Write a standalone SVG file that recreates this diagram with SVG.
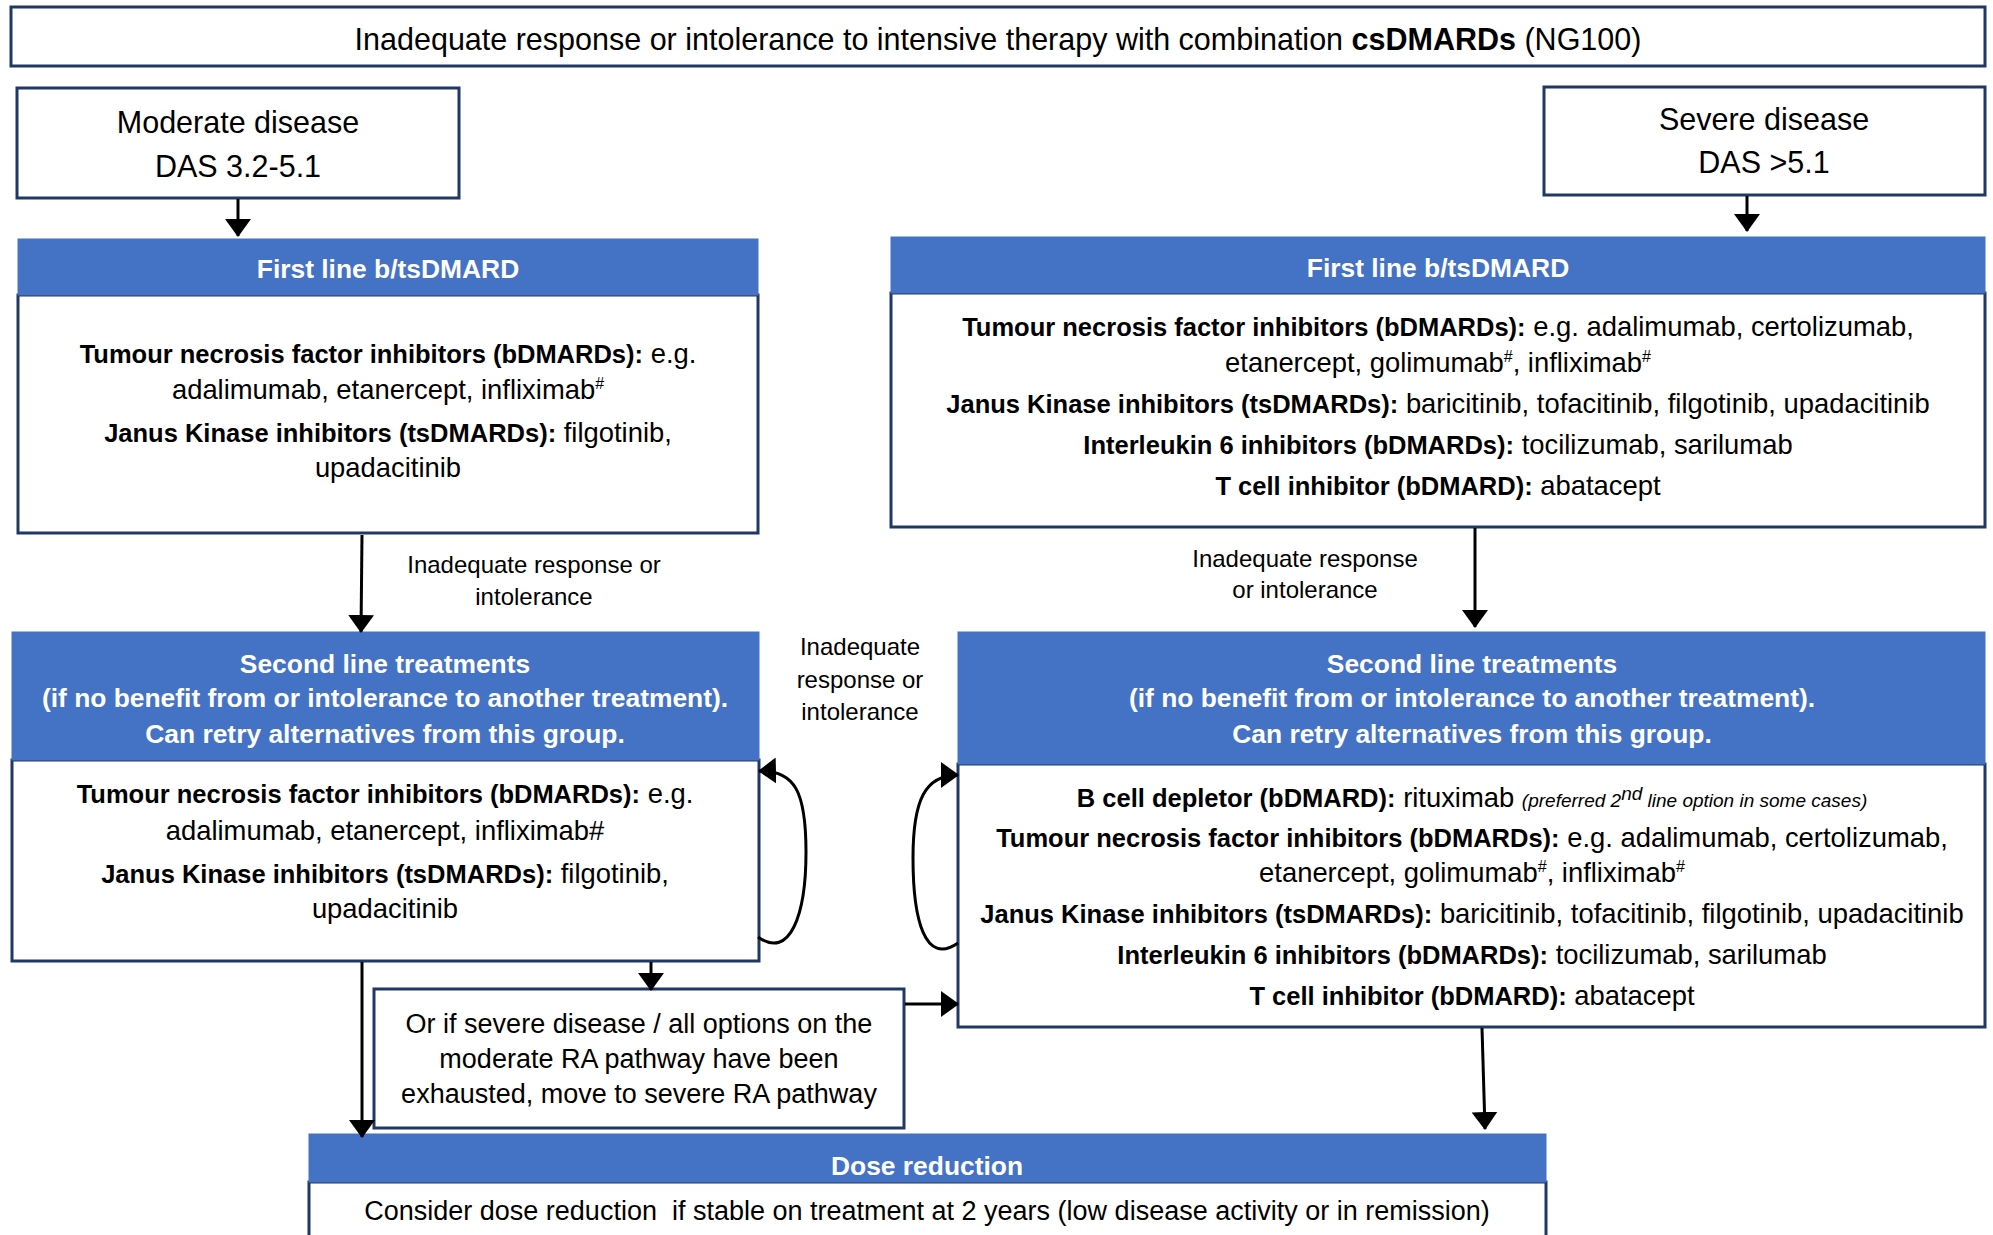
<svg xmlns="http://www.w3.org/2000/svg" width="1993" height="1235" viewBox="0 0 1993 1235">
<style>
text{font-family:"Liberation Sans",Arial,sans-serif;fill:#000;text-anchor:middle}
.box{fill:#fff;stroke:#1f3864;stroke-width:3}
.bar{fill:#4472c4;stroke:#4472c4;stroke-width:1}
.big{font-size:30.5px}
.hd{font-size:26.4px;font-weight:bold;fill:#fff}
.bd{font-size:27.4px}
.bd .b{font-size:25.5px}
.lb{font-size:24px}
.or{font-size:27px}
.b{font-weight:bold}
.sup{font-size:16px}
.it{font-style:italic;font-size:19px}
.conn{fill:none;stroke:#000;stroke-width:3;marker-end:url(#ah)}
</style>
<defs>
<marker id="ah" viewBox="0 0 18 26" markerWidth="18" markerHeight="26" refX="17" refY="13" orient="auto" markerUnits="userSpaceOnUse">
<path d="M0,0 L18,13 L0,26 z" fill="#000"/>
</marker>
</defs>
<rect width="1993" height="1235" fill="#fff"/>

<g id="top">
<rect class="box" x="11" y="7" width="1974" height="59"/>
<text class="big" x="998" y="50">Inadequate response or intolerance to intensive therapy with combination <tspan class="b">csDMARDs</tspan> (NG100)</text>
</g>

<g id="moderate">
<rect class="box" x="17" y="88" width="442" height="110"/>
<text class="big" x="238" y="133" font-size="31.5">Moderate disease</text>
<text class="big" x="238" y="177" font-size="31.5">DAS 3.2-5.1</text>
</g>

<g id="severe">
<rect class="box" x="1544" y="87" width="441" height="108"/>
<text class="big" x="1764" y="130">Severe disease</text>
<text class="big" x="1764" y="173">DAS &gt;5.1</text>
</g>

<g id="first-line-moderate">
<rect class="box" x="18" y="295" width="740" height="238"/>
<rect class="bar" x="18" y="239" width="740" height="56"/>
<text class="hd" x="388" y="278">First line b/tsDMARD</text>
<text class="bd" x="388" y="363"><tspan class="b">Tumour necrosis factor inhibitors (bDMARDs):</tspan> e.g.</text>
<text class="bd" x="388" y="399">adalimumab, etanercept, infliximab<tspan class="sup" dy="-10">#</tspan></text>
<text class="bd" x="388" y="442"><tspan class="b">Janus Kinase inhibitors (tsDMARDs):</tspan> filgotinib,</text>
<text class="bd" x="388" y="477">upadacitinib</text>
</g>

<g id="first-line-severe">
<rect class="box" x="891" y="293" width="1094" height="234"/>
<rect class="bar" x="891" y="237" width="1094" height="56"/>
<text class="hd" x="1438" y="277">First line b/tsDMARD</text>
<text class="bd" x="1438" y="336"><tspan class="b">Tumour necrosis factor inhibitors (bDMARDs):</tspan> e.g. adalimumab, certolizumab,</text>
<text class="bd" x="1438" y="372">etanercept, golimumab<tspan class="sup" dy="-10">#</tspan><tspan dy="10">, infliximab</tspan><tspan class="sup" dy="-10">#</tspan></text>
<text class="bd" x="1438" y="413"><tspan class="b">Janus Kinase inhibitors (tsDMARDs):</tspan> baricitinib, tofacitinib, filgotinib, upadacitinib</text>
<text class="bd" x="1438" y="454"><tspan class="b">Interleukin 6 inhibitors (bDMARDs):</tspan> tocilizumab, sarilumab</text>
<text class="bd" x="1438" y="495"><tspan class="b">T cell inhibitor (bDMARD):</tspan> abatacept</text>
</g>

<g id="second-line-moderate">
<rect class="box" x="12" y="760" width="747" height="201"/>
<rect class="bar" x="12" y="632" width="747" height="128"/>
<text class="hd" x="385" y="673">Second line treatments</text>
<text class="hd" x="385" y="707">(if no benefit from or intolerance to another treatment).</text>
<text class="hd" x="385" y="743">Can retry alternatives from this group.</text>
<text class="bd" x="385" y="803"><tspan class="b">Tumour necrosis factor inhibitors (bDMARDs):</tspan> e.g.</text>
<text class="bd" x="385" y="840">adalimumab, etanercept, infliximab#</text>
<text class="bd" x="385" y="883"><tspan class="b">Janus Kinase inhibitors (tsDMARDs):</tspan> filgotinib,</text>
<text class="bd" x="385" y="918">upadacitinib</text>
</g>

<g id="second-line-severe">
<rect class="box" x="958" y="764" width="1027" height="263"/>
<rect class="bar" x="958" y="632" width="1027" height="132"/>
<text class="hd" x="1472" y="673">Second line treatments</text>
<text class="hd" x="1472" y="707">(if no benefit from or intolerance to another treatment).</text>
<text class="hd" x="1472" y="743">Can retry alternatives from this group.</text>
<text class="bd" x="1472" y="807"><tspan class="b">B cell depletor (bDMARD):</tspan> rituximab <tspan class="it">(preferred 2</tspan><tspan class="it" dy="-7" font-size="12">nd</tspan><tspan class="it" dy="7"> line option in some cases)</tspan></text>
<text class="bd" x="1472" y="847"><tspan class="b">Tumour necrosis factor inhibitors (bDMARDs):</tspan> e.g. adalimumab, certolizumab,</text>
<text class="bd" x="1472" y="882">etanercept, golimumab<tspan class="sup" dy="-10">#</tspan><tspan dy="10">, infliximab</tspan><tspan class="sup" dy="-10">#</tspan></text>
<text class="bd" x="1472" y="923"><tspan class="b">Janus Kinase inhibitors (tsDMARDs):</tspan> baricitinib, tofacitinib, filgotinib, upadacitinib</text>
<text class="bd" x="1472" y="964"><tspan class="b">Interleukin 6 inhibitors (bDMARDs):</tspan> tocilizumab, sarilumab</text>
<text class="bd" x="1472" y="1005"><tspan class="b">T cell inhibitor (bDMARD):</tspan> abatacept</text>
</g>

<g id="move-to-severe">
<rect class="box" x="374" y="989" width="530" height="139"/>
<text class="or" x="639" y="1033">Or if severe disease / all options on the</text>
<text class="or" x="639" y="1068">moderate RA pathway have been</text>
<text class="or" x="639" y="1103">exhausted, move to severe RA pathway</text>
</g>

<g id="dose-reduction">
<rect class="box" x="309" y="1182" width="1237" height="70"/>
<rect class="bar" x="309" y="1134" width="1237" height="48"/>
<text class="hd" x="927" y="1175">Dose reduction</text>
<text class="or" x="927" y="1220" xml:space="preserve">Consider dose reduction  if stable on treatment at 2 years (low disease activity or in remission)</text>
</g>

<g id="labels">
<text class="lb" x="534" y="573">Inadequate response or</text>
<text class="lb" x="534" y="605">intolerance</text>
<text class="lb" x="1305" y="567">Inadequate response</text>
<text class="lb" x="1305" y="598">or intolerance</text>
<text class="lb" x="860" y="655">Inadequate</text>
<text class="lb" x="860" y="688">response or</text>
<text class="lb" x="860" y="720">intolerance</text>
</g>

<g id="connectors">
<path class="conn" d="M238,199 L238,236"/>
<path class="conn" d="M1747,196 L1747,231"/>
<path class="conn" d="M362,535 L361,632"/>
<path class="conn" d="M1475,528 L1475,627"/>
<path class="conn" d="M651,962 L651,990"/>
<path class="conn" d="M905,1004 L958,1004"/>
<path class="conn" d="M362,962 L362,1137"/>
<path class="conn" d="M1482,1028 L1485,1129"/>
<path class="conn" d="M758,937 C790,960 806,915 806,852 C806,792 795,770 759,771"/>
<path class="conn" d="M958,943 C925,966 913,920 913,858 C913,800 925,775 958,775"/>
</g>
</svg>
